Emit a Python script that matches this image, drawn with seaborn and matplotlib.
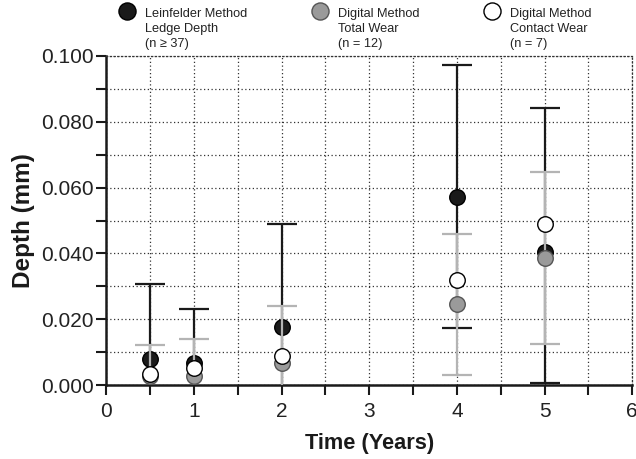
import pandas as pd
import matplotlib.pyplot as plt
import seaborn as sns

# waktu pengamatan (tahun)
times = [0.5, 1, 2, 4, 5]

# Leinfelder method - ledge depth
ledge_mean = [0.0080, 0.0066, 0.0177, 0.0573, 0.0403]
ledge_low = [-0.0148, -0.0098, -0.0136, 0.0173, 0.0006]
ledge_high = [0.0308, 0.0230, 0.0490, 0.0973, 0.0843]

# Digital method - total wear
total_mean = [0.0028, 0.0029, 0.0066, 0.0245, 0.0385]
total_low = [-0.0067, -0.0081, -0.0107, 0.0030, 0.0124]
total_high = [0.0123, 0.0139, 0.0239, 0.0460, 0.0648]

# Digital method - contact wear (tanpa error bar)
contact_mean = [0.0033, 0.0051, 0.0089, 0.0320, 0.0490]

labels = ['Leinfelder Method\nLedge Depth\n(n \u2265 37)',
          'Digital Method\nTotal Wear\n(n = 12)',
          'Digital Method\nContact Wear\n(n = 7)']

ledge = pd.DataFrame({'time': times, 'depth': ledge_mean})
total = pd.DataFrame({'time': times, 'depth': total_mean})
contact = pd.DataFrame({'time': times, 'depth': contact_mean})

sns.set_style('ticks')
plt.rcParams['font.family'] = ['Liberation Sans', 'DejaVu Sans']

fig = plt.figure(figsize=(6.36, 4.59), dpi=100)
ax = fig.add_axes([0.167, 0.161, 0.827, 0.717])

dark = '#1a1a1a'
light = '#b4b4b4'

# error bar + titik, urutan: hitam, abu-abu, putih
ax.errorbar(times, ledge_mean,
            yerr=[[m - l for m, l in zip(ledge_mean, ledge_low)],
                  [h - m for m, h in zip(ledge_mean, ledge_high)]],
            fmt='none', ecolor=dark, elinewidth=1.6, capsize=11, capthick=1.6, zorder=3)
sns.scatterplot(data=ledge, x='time', y='depth', s=125, color=dark,
                edgecolor='black', linewidth=1.0, zorder=4, ax=ax, label=labels[0])

ax.errorbar(times, total_mean,
            yerr=[[m - l for m, l in zip(total_mean, total_low)],
                  [h - m for m, h in zip(total_mean, total_high)]],
            fmt='none', ecolor=light, elinewidth=1.6, capsize=11, capthick=1.6, zorder=5)
sns.scatterplot(data=total, x='time', y='depth', s=125, color='#9a9a9a',
                edgecolor='#555555', linewidth=1.0, zorder=6, ax=ax, label=labels[1])

sns.scatterplot(data=contact, x='time', y='depth', s=125, color='white',
                edgecolor='black', linewidth=1.0, zorder=7, ax=ax, label=labels[2])

ax.set_xlim(0, 6)
ax.set_ylim(0, 0.1)
ax.set_xticks([0, 1, 2, 3, 4, 5, 6])
ax.set_xticks([0.5, 1.5, 2.5, 3.5, 4.5, 5.5], minor=True)
ax.set_yticks([0, 0.02, 0.04, 0.06, 0.08, 0.1])
ax.set_yticklabels(['0.000', '0.020', '0.040', '0.060', '0.080', '0.100'])
ax.set_yticks([0.01, 0.03, 0.05, 0.07, 0.09], minor=True)

ax.grid(True, which='both', linestyle=(0, (1, 2)), color='#333333', linewidth=0.9)
ax.set_axisbelow(True)

ax.tick_params(which='both', direction='out', length=7.5, width=1.5, color=dark,
               labelsize=15, labelcolor='#222222')
ax.tick_params(axis='y', pad=1.5)
ax.tick_params(axis='x', pad=5)
for side in ['left', 'bottom']:
    ax.spines[side].set_linewidth(1.8)
    ax.spines[side].set_color(dark)
for side in ['top', 'right']:
    ax.spines[side].set_linestyle((0, (1, 2)))
    ax.spines[side].set_linewidth(0.9)
    ax.spines[side].set_color('#333333')

ax.set_xlabel('Time (Years)', fontsize=15.7, fontweight='bold', color=dark, labelpad=8)
ax.set_ylabel('Depth (mm)', fontsize=17.5, fontweight='bold', color=dark, labelpad=4)

leg = ax.legend(loc='upper left', bbox_to_anchor=(0.1855, 0.983), bbox_transform=fig.transFigure,
                ncol=3, frameon=False, fontsize=9.2, handlelength=1.4, handletextpad=0.7,
                columnspacing=5.0, borderpad=0, borderaxespad=0, markerscale=1.1,
                scatteryoffsets=[2.5], labelcolor='#222222')
for t in leg.get_texts():
    t.set_linespacing(1.35)

plt.savefig('out.png')
